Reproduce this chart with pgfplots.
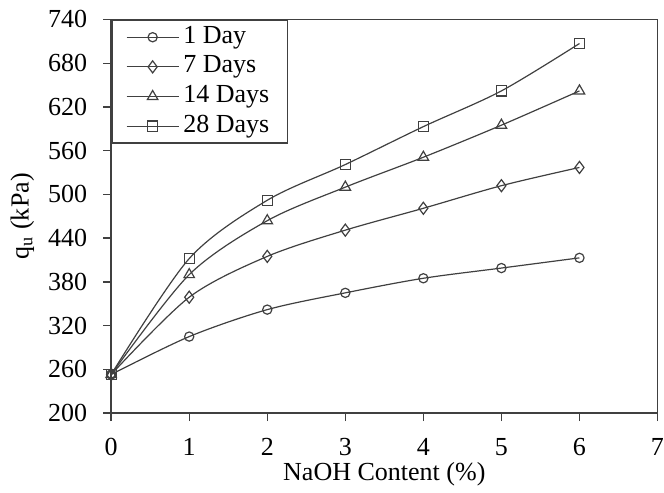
\documentclass[border=0pt]{standalone}
\usepackage{fontspec}
\setmainfont{Liberation Serif}
\usepackage{pgfplots}
\pgfplotsset{compat=1.18}
\definecolor{ln}{HTML}{404040}
\begin{document}
\begin{tikzpicture}
\begin{axis}[
  scale only axis, width=272bp, height=196bp,
  xmin=0, xmax=7, ymin=200, ymax=740,
  xtick={0,1,...,7}, ytick={200,260,...,740},
  /pgf/number format/assume math mode=true,
  tick label style={font=\fontsize{13}{15}\selectfont},
  label style={font=\fontsize{13}{15}\selectfont},
  xticklabel style={yshift=-5bp, inner xsep=0pt},
  yticklabel style={xshift=-4.5bp},
  xlabel={NaOH Content (\%)},
  ylabel={q\textsubscript{u} (kPa)},
  xlabel style={yshift=3.5bp},
  ylabel style={yshift=0bp},
  tick align=outside, major tick length=4bp,
  xtick pos=bottom, ytick pos=left,
  axis line style={ln, line width=0.7pt},
  tick style={ln, line width=0.7pt},
  cycle list={{ln}},
  every axis plot/.append style={ln, line width=0.6pt, smooth, mark options={solid, fill=white, line width=0.6pt}},
  legend style={at={(rel axis cs:0,1)}, anchor=north west, draw=ln, line width=0.7pt,
    font=\fontsize{13}{15}\selectfont, inner xsep=7bp, inner ysep=2.5bp, row sep=2.75bp, column sep=0pt,
    nodes={inner xsep=2bp, inner ysep=0pt, text height=9bp, text depth=3bp}},
  legend cell align=left,
  legend image code/.code={\draw[mark repeat=2,mark phase=2] plot coordinates {(0bp,0bp)(13bp,0bp)(26bp,0bp)};},
]
\addplot[ln, mark=o, mark size=2.3bp] coordinates {(0,253)(1,305)(2,342)(3,365)(4,385)(5,399)(6,413)};
\addlegendentry{1 Day}
\addplot[ln, mark=diamond, mark size=3bp] coordinates {(0,253)(1,359)(2,415)(3,451)(4,481)(5,512)(6,537)};
\addlegendentry{7 Days}
\addplot[ln, mark=triangle, mark size=3bp] coordinates {(0,253)(1,390)(2,464)(3,510)(4,551)(5,595)(6,642)};
\addlegendentry{14 Days}
\addplot[ln, mark=square, mark size=2.5bp] coordinates {(0,253)(1,412)(2,492)(3,541)(4,593)(5,642)(6,707)};
\addlegendentry{28 Days}
\end{axis}
\path ([xshift=-2bp,yshift=2bp]current bounding box.north west);
\end{tikzpicture}
\end{document}
